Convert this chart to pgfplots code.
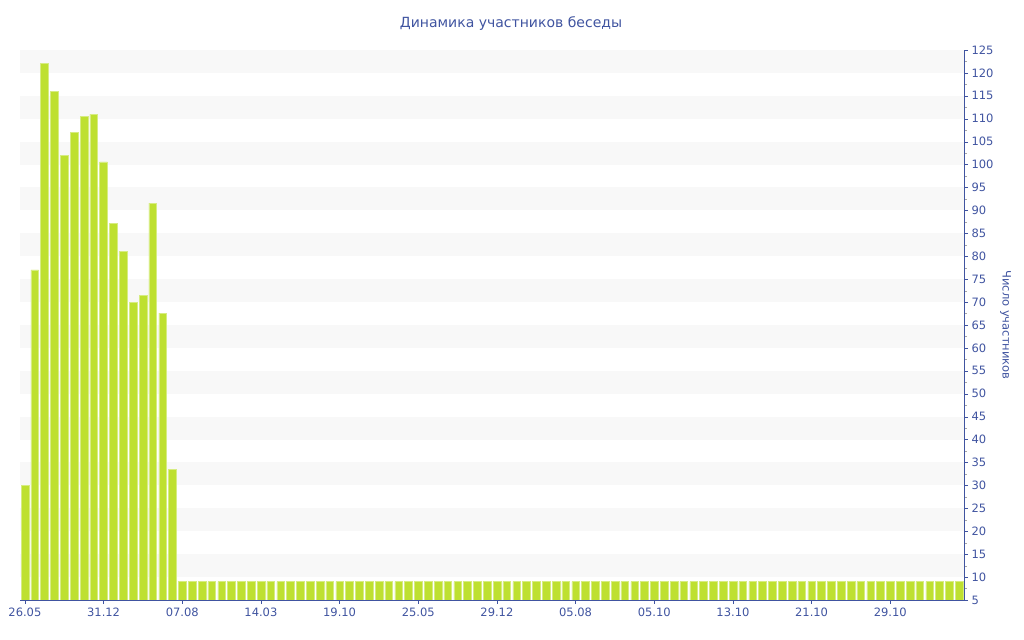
\documentclass[border=0pt]{standalone}
\usepackage{pgfplots}
\pgfplotsset{compat=1.18}
\usepackage{fontspec}
\setmainfont{DejaVu Sans}
\definecolor{txt}{RGB}{64,84,160}
\definecolor{barc}{RGB}{190,224,48}
\definecolor{baredge}{RGB}{214,236,130}
\definecolor{band}{RGB}{248,248,248}
\begin{document}
\begin{tikzpicture}[x=1bp,y=1bp]
\path[use as bounding box] (0,0) rectangle (1024,640);
\node[text=txt, font=\fontsize{14bp}{16bp}\selectfont] at (511,616) {Динамика участников беседы};
\begin{axis}[
  at={(20bp,40bp)}, anchor=south west,
  scale only axis, width=944bp, height=550bp,
  xmin=-0.5, xmax=95.5, ymin=5, ymax=125,
  axis y line*=right, axis x line*=bottom,
  axis line style={txt, line width=0.8bp},
  ybar, bar width=0.78,
  xtick={0,8,...,88},
  xticklabels={26.05,31.12,07.08,14.03,19.10,25.05,29.12,05.08,05.10,13.10,21.10,29.10},
  ytick={5,10,...,125},
  minor y tick num=1,
  major tick length=4bp, minor tick length=3bp,
  tick align=outside,
  major tick style={txt},
  minor tick style={gray!70},
  /pgf/number format/assume math mode=true,
  tick label style={text=txt, font=\fontsize{11.5bp}{13bp}\selectfont},
  ylabel={Число участников},
  ylabel style={rotate=180, text=txt, font=\fontsize{11.5bp}{13bp}\selectfont},
  axis on top=false,
]
\fill[band] (axis cs:-0.5,10) rectangle (axis cs:95.5,15);
\fill[band] (axis cs:-0.5,20) rectangle (axis cs:95.5,25);
\fill[band] (axis cs:-0.5,30) rectangle (axis cs:95.5,35);
\fill[band] (axis cs:-0.5,40) rectangle (axis cs:95.5,45);
\fill[band] (axis cs:-0.5,50) rectangle (axis cs:95.5,55);
\fill[band] (axis cs:-0.5,60) rectangle (axis cs:95.5,65);
\fill[band] (axis cs:-0.5,70) rectangle (axis cs:95.5,75);
\fill[band] (axis cs:-0.5,80) rectangle (axis cs:95.5,85);
\fill[band] (axis cs:-0.5,90) rectangle (axis cs:95.5,95);
\fill[band] (axis cs:-0.5,100) rectangle (axis cs:95.5,105);
\fill[band] (axis cs:-0.5,110) rectangle (axis cs:95.5,115);
\fill[band] (axis cs:-0.5,120) rectangle (axis cs:95.5,125);
\addplot[fill=barc, draw=baredge, line width=0.5bp] coordinates {
(0,30) (1,77) (2,122) (3,116) (4,102) (5,107) (6,110.5) (7,111)
(8,100.6) (9,87.2) (10,81) (11,70) (12,71.5) (13,91.6) (14,67.6) (15,33.5)
(16,9) (17,9) (18,9) (19,9) (20,9) (21,9) (22,9) (23,9)
(24,9) (25,9) (26,9) (27,9) (28,9) (29,9) (30,9) (31,9)
(32,9) (33,9) (34,9) (35,9) (36,9) (37,9) (38,9) (39,9)
(40,9) (41,9) (42,9) (43,9) (44,9) (45,9) (46,9) (47,9)
(48,9) (49,9) (50,9) (51,9) (52,9) (53,9) (54,9) (55,9)
(56,9) (57,9) (58,9) (59,9) (60,9) (61,9) (62,9) (63,9)
(64,9) (65,9) (66,9) (67,9) (68,9) (69,9) (70,9) (71,9)
(72,9) (73,9) (74,9) (75,9) (76,9) (77,9) (78,9) (79,9)
(80,9) (81,9) (82,9) (83,9) (84,9) (85,9) (86,9) (87,9)
(88,9) (89,9) (90,9) (91,9) (92,9) (93,9) (94,9) (95,9)
};
\end{axis}
\end{tikzpicture}
\end{document}
